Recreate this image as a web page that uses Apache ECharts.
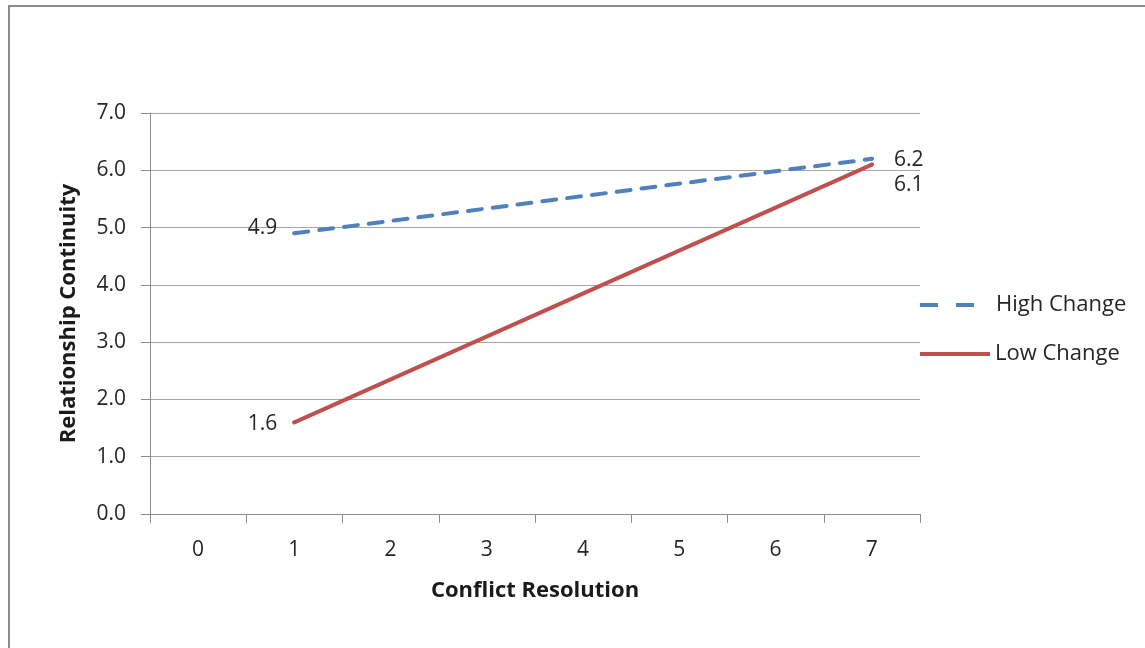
<!DOCTYPE html>
<html>
<head>
<meta charset="utf-8">
<script src="https://cdn.jsdelivr.net/npm/echarts@6/dist/echarts.min.js"></script>
<style>
  html, body { margin: 0; padding: 0; background: #fff; }
  #frame { position: absolute; left: 8px; top: 5px; width: 1160px; height: 680px; border: 2px solid #8c8c8c; box-sizing: border-box; }
  #chart { position: absolute; left: 0; top: 0; width: 1145px; height: 648px; }
</style>
</head>
<body>
<div id="frame"></div>
<div id="chart"></div>
<script>
// categories on the x axis
const categories = ['0', '1', '2', '3', '4', '5', '6', '7']
// series values (only the end points are plotted, joined straight)
const highChange = [null, 4.9, null, null, null, null, null, 6.2]
const lowChange = [null, 1.6, null, null, null, null, null, 6.1]

const chart = echarts.init(document.getElementById('chart'))
const font = '"Open Sans", sans-serif'
const textColor = '#262626'

// put labels only on the end points: first one left, last one right
const endLabels = (values, leftOffset, rightOffset) => {
    const first = values.findIndex(x => x !== null)
    return values.map((v, i) => {
        if (v === null) return null
        return {
            value: v,
            label: {
                show: true,
                position: i === first ? 'left' : 'right',
                distance: i === first ? 15 : 20,
                offset: i === first ? leftOffset : rightOffset,
            },
        }
    })
}

const options = {
    animation: false,
    textStyle: { fontFamily: font },
    grid: { left: 150, right: 225, top: 113, bottom: 134 },
    legend: [
        {
            left: 915,
            top: 289,
            itemWidth: 54,
            itemHeight: 4,
            icon: 'path://M0,0h18v4h-18z M36,0h18v4h-18z',
            textStyle: { fontSize: 22, color: textColor, fontFamily: font, padding: [0, 0, 0, 17] },
            data: ['High Change'],
        },
        {
            left: 915,
            top: 338,
            itemWidth: 70,
            itemHeight: 4,
            icon: 'path://M0,0h70v4h-70z',
            textStyle: { fontSize: 22, color: textColor, fontFamily: font },
            data: ['Low Change'],
        },
    ],
    xAxis: {
        type: 'category',
        data: categories,
        boundaryGap: true,
        name: 'Conflict Resolution',
        nameLocation: 'middle',
        nameGap: 66,
        nameTextStyle: { fontSize: 22, fontWeight: 'bold', color: '#1a1a1a' },
        axisLine: { lineStyle: { color: '#8c8c8c', width: 1 } },
        axisTick: { show: true, length: 9, alignWithLabel: false, lineStyle: { color: '#8c8c8c' } },
        axisLabel: { fontSize: 21, color: textColor, margin: 26 },
    },
    yAxis: {
        type: 'value',
        min: 0,
        max: 7,
        interval: 1,
        name: 'Relationship Continuity',
        nameLocation: 'middle',
        nameGap: 70,
        nameTextStyle: { fontSize: 22, fontWeight: 'bold', color: '#1a1a1a' },
        axisLine: { show: true, lineStyle: { color: '#8c8c8c', width: 1 } },
        axisTick: { show: true, length: 9, lineStyle: { color: '#8c8c8c' } },
        axisLabel: { fontSize: 21, color: textColor, margin: 24, formatter: v => v.toFixed(1) },
        splitLine: { lineStyle: { color: '#a6a6a6', width: 1 } },
    },
    series: [
        {
            name: 'High Change',
            type: 'line',
            data: endLabels(highChange, [0, -5], [0, 1]),
            connectNulls: true,
            symbol: 'circle',
            symbolSize: 4,
            lineStyle: { color: '#4f81bd', width: 4, type: [14, 11], cap: 'round' },
            itemStyle: { color: '#4f81bd' },
            label: { fontSize: 21, color: textColor, fontFamily: font },
        },
        {
            name: 'Low Change',
            type: 'line',
            data: endLabels(lowChange, [0, 2], [0, 20]),
            connectNulls: true,
            symbol: 'circle',
            symbolSize: 4,
            lineStyle: { color: '#c0504d', width: 4, cap: 'round' },
            itemStyle: { color: '#c0504d' },
            label: { fontSize: 21, color: textColor, fontFamily: font },
        },
    ],
}

chart.setOption(options)
</script>
</body>
</html>
